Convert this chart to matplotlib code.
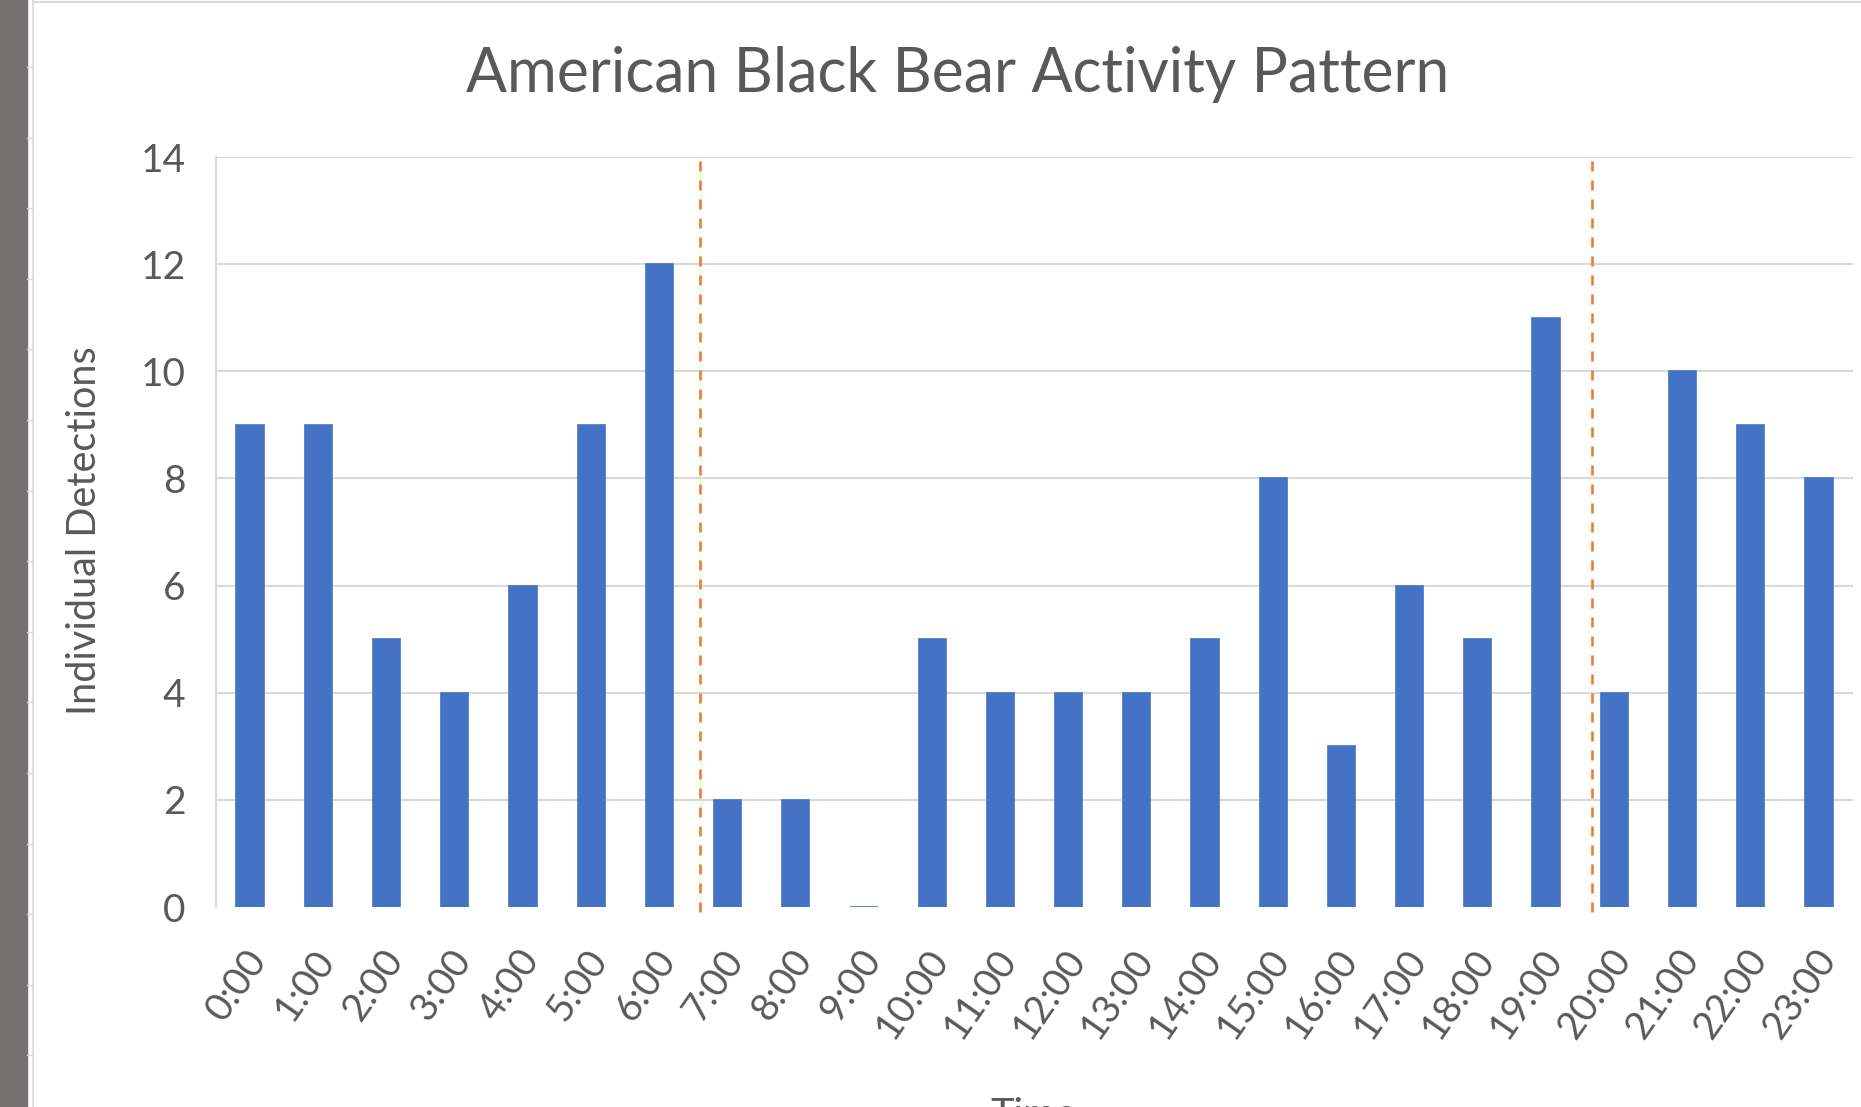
import matplotlib
matplotlib.use("Agg")
import matplotlib.pyplot as plt
import matplotlib.patches as mpatches
import matplotlib.lines as mlines
import matplotlib.transforms as mtransforms
import numpy as np

###############################
# Data
hours = ["0:00", "1:00", "2:00", "3:00", "4:00", "5:00", "6:00", "7:00",
         "8:00", "9:00", "10:00", "11:00", "12:00", "13:00", "14:00", "15:00",
         "16:00", "17:00", "18:00", "19:00", "20:00", "21:00", "22:00", "23:00"]
detections = [9, 9, 5, 4, 6, 9, 12, 2, 2, 0, 5, 4, 4, 4, 5, 8, 3, 6, 5, 11, 4, 10, 9, 8]
# sunrise / sunset markers, in category units
sun_marks = [6.6, 19.67]
y_ticks = [0, 2, 4, 6, 8, 10, 12, 14]
###############################

BLUE = "#4472C4"
ORANGE = "#ED7D31"
GRID = "#D9D9D9"
TEXT = "#595959"

plt.rcParams['font.family'] = ['Lato', 'DejaVu Sans']

W, H = 1861, 1107
fig = plt.figure(figsize=(W / 100, H / 100), dpi=100)

# screenshot frame: dark strip on the left, thin borders
fig.patches.append(mpatches.Rectangle((0, 0), 27 / W, 1, transform=fig.transFigure,
                                      color="#757070", zorder=0))
fig.lines.append(mlines.Line2D([33 / W, 33 / W], [0, 1], transform=fig.transFigure,
                               color=GRID, lw=1.2))
fig.lines.append(mlines.Line2D([33 / W, 1], [1 - 2 / H, 1 - 2 / H], transform=fig.transFigure,
                               color=GRID, lw=1.5))
for yy in np.arange(67, H, 70.6):
    fig.lines.append(mlines.Line2D([27 / W, 33 / W], [1 - yy / H, 1 - yy / H],
                                   transform=fig.transFigure, color=GRID, lw=1))

ax = fig.add_axes([216 / W, 1 - 907 / H, (1853 - 216) / W, (907 - 157) / H])

x = np.arange(len(hours))
ax.bar(x, detections, width=0.4, color=BLUE, edgecolor=BLUE, linewidth=1.2, zorder=3)

for s in sun_marks:
    ax.plot([s, s], [-0.1, 14], color=ORANGE, lw=1.9, dashes=(3.8, 3.4), zorder=4,
            clip_on=False)

ax.set_xlim(-0.5, len(hours) - 0.5)
ax.set_ylim(0, 14)
ax.set_yticks(y_ticks)
ax.set_xticks(x)
ax.set_xticklabels(hours, rotation=55, ha="right", va="center", rotation_mode="anchor")

# gridlines, but none along zero
for t in y_ticks[1:]:
    ax.axhline(t, color=GRID, lw=1.5, zorder=1)

for side in ["top", "right", "bottom"]:
    ax.spines[side].set_visible(False)
ax.spines["left"].set_color(GRID)
ax.spines["left"].set_linewidth(1.5)

ax.tick_params(axis="both", length=0, colors=TEXT, labelsize=28)
ax.tick_params(axis="y", pad=22)
ax.tick_params(axis="x", pad=29)

# nudge the rotated labels the way excel places them (after tick_params,
# which would reset the transform)
shift = mtransforms.ScaledTranslation(9 / 100, -6 / 100, fig.dpi_scale_trans)
for lab in ax.get_xticklabels():
    lab.set_transform(lab.get_transform() + shift)

fig.text(958 / W, 1 - 92 / H, "American Black Bear Activity Pattern", ha="center",
         va="baseline", fontsize=43.7, color=TEXT)
fig.text(85 / W, 1 - 531 / H, "Individual Detections", rotation=90, ha="center",
         va="center", fontsize=28.5, color=TEXT)
fig.text(1034 / W, 1 - 1097 / H, "Time", ha="center", va="top", fontsize=28.5, color=TEXT)

fig.savefig("out.png", dpi=100)
